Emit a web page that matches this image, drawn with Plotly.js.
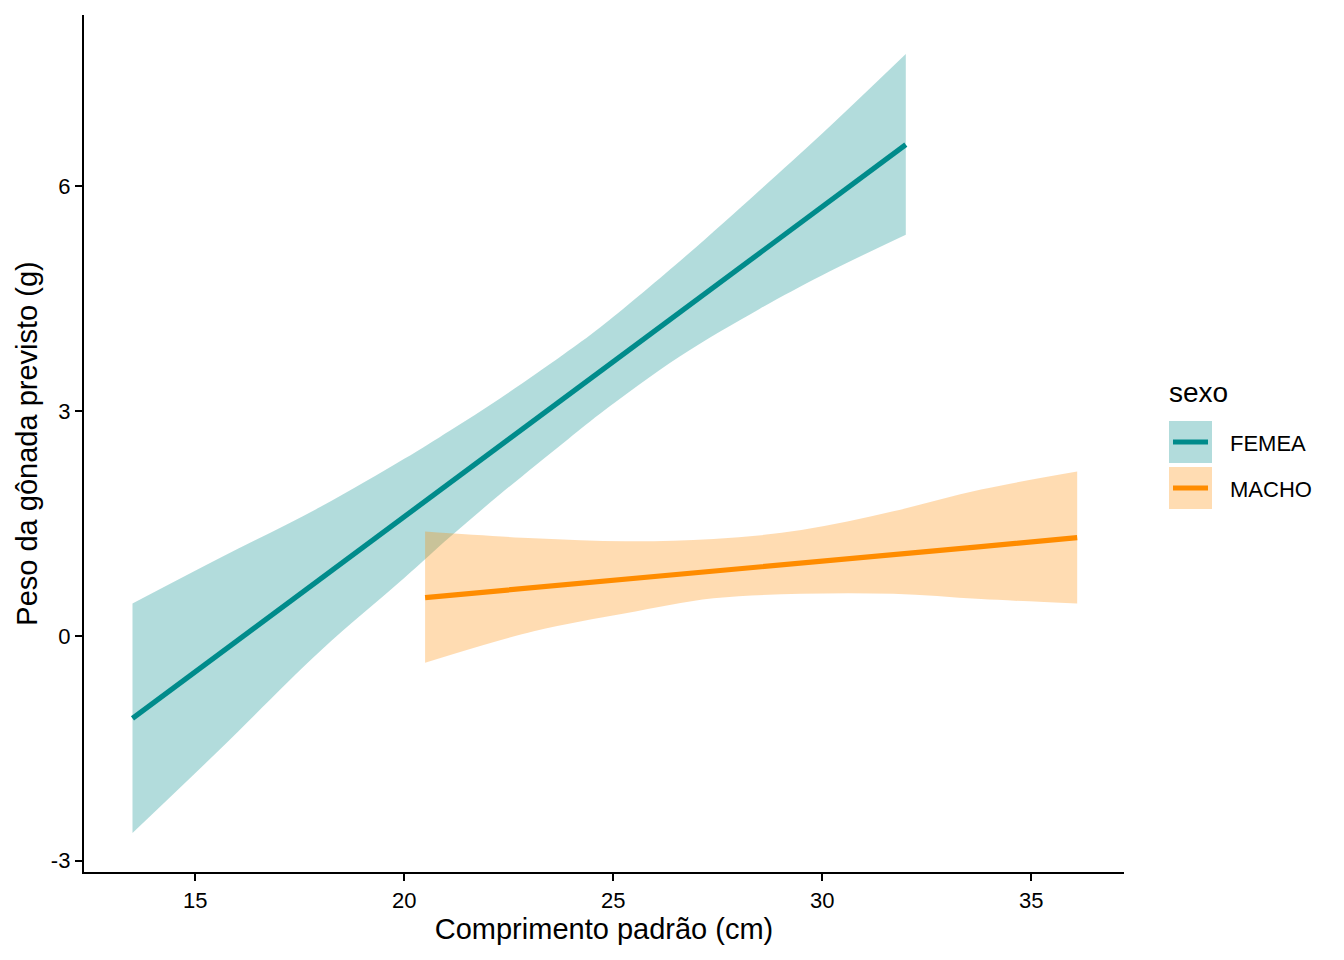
<!DOCTYPE html>
<html>
<head>
<meta charset="utf-8">
<script src="https://cdn.plot.ly/plotly-3.0.1.min.js"></script>
<style>
  body { margin: 0; background: #fff; }
  #chart { width: 1344px; height: 960px; }
</style>
</head>
<body>
<div id="chart"></div>
<script>
// predicted gonad weight by standard length
let femX     = [13.5, 15.6, 18.0, 20.0, 21.1, 22.3, 23.8, 24.7, 26.6, 28.5, 30.0, 32.0];
let femFit   = [-1.10, -0.23, 0.76, 1.59, 2.05, 2.55, 3.17, 3.54, 4.33, 5.11, 5.73, 6.55];
let femLower = [-2.63, -1.51, -0.20, 0.77, 1.32, 1.89, 2.57, 2.97, 3.73, 4.36, 4.81, 5.35];
let femUpper = [0.43, 1.04, 1.72, 2.36, 2.74, 3.17, 3.75, 4.12, 5.00, 5.94, 6.70, 7.76];

let macX     = [20.5, 23.1, 25.3, 27.4, 29.5, 31.7, 33.8, 36.1];
let macFit   = [0.51, 0.64, 0.76, 0.86, 0.97, 1.08, 1.19, 1.31];
let macLower = [-0.36, 0.06, 0.30, 0.50, 0.56, 0.56, 0.49, 0.43];
let macUpper = [1.39, 1.30, 1.26, 1.29, 1.41, 1.66, 1.95, 2.19];

let groups = ["FEMEA", "MACHO"];
let xTicks = [15, 20, 25, 30, 35];
let yTicks = [-3, 0, 3, 6];
let yTickText = ["-3", "0", "3", "6"];  // plain hyphen like the original

const colFem = "#008B8B";
const colMac = "#FF8C00";
const fillFem = "rgba(0,139,139,0.3)";
const fillMac = "rgba(255,140,0,0.3)";
const font = "Liberation Sans, Arial, sans-serif";
const lineW = 5.2;

// ribbon = lower edge (no fill) + upper edge filled down to it
function ribbon(x, lo, hi, fill) {
    return [
        {x: x, y: lo, mode: "lines", line: {width: 0, shape: "spline"}, hoverinfo: "skip", showlegend: false},
        {x: x, y: hi, mode: "lines", fill: "tonexty", fillcolor: fill,
         line: {width: 0, shape: "spline"}, hoverinfo: "skip", showlegend: false}
    ];
}

function fitLine(x, y, col) {
    return {x: x, y: y, mode: "lines", line: {color: col, width: lineW}, hoverinfo: "skip", showlegend: false};
}

let traces = []
    .concat(ribbon(femX, femLower, femUpper, fillFem))
    .concat(ribbon(macX, macLower, macUpper, fillMac));
traces.push(fitLine(femX, femFit, colFem));
traces.push(fitLine(macX, macFit, colMac));

// plot area in pixels, used to place the hand-drawn legend
const L = 84, R = 220, T = 15, B = 88, W = 1344, H = 960;
const px = v => (v - L) / (W - L - R);
const py = v => (H - B - v) / (H - T - B);

let shapes = [];
let annotations = [
    {text: "sexo", x: px(1167), y: py(392), xref: "paper", yref: "paper",
     xanchor: "left", yanchor: "middle", showarrow: false, font: {family: font, size: 28, color: "#000"}}
];
let keyCols = [colFem, colMac];
let keyFills = [fillFem, fillMac];
let keyTop = [421, 467];
for (let i = 0; i < groups.length; i++) {
    let t = keyTop[i];
    shapes.push({type: "rect", xref: "paper", yref: "paper",
                 x0: px(1169), x1: px(1212), y0: py(t), y1: py(t + 42),
                 fillcolor: keyFills[i], line: {width: 0}});
    shapes.push({type: "line", xref: "paper", yref: "paper",
                 x0: px(1173), x1: px(1208), y0: py(t + 21), y1: py(t + 21),
                 line: {color: keyCols[i], width: lineW}});
    annotations.push({text: groups[i], x: px(1228), y: py(t + 22), xref: "paper", yref: "paper",
                      xanchor: "left", yanchor: "middle", showarrow: false,
                      font: {family: font, size: 22, color: "#000"}});
}

let layout = {
    width: W,
    height: H,
    margin: {l: L, r: R, t: T, b: B},
    paper_bgcolor: "#fff",
    plot_bgcolor: "#fff",
    font: {family: font, color: "#000"},
    showlegend: false,
    xaxis: {
        range: [12.34, 37.22],
        tickvals: xTicks,
        ticks: "outside", ticklen: 7, tickwidth: 2.2, tickcolor: "#000",
        showline: true, linecolor: "#000", linewidth: 2.2,
        showgrid: false, zeroline: false,
        tickfont: {size: 22, color: "#000"},
        title: {text: "Comprimento padrão (cm)", font: {size: 29}, standoff: 7}
    },
    yaxis: {
        range: [-3.15, 8.28],
        tickvals: yTicks,
        ticktext: yTickText,
        ticks: "outside", ticklen: 7, tickwidth: 2.2, tickcolor: "#000",
        showline: true, linecolor: "#000", linewidth: 2.2,
        showgrid: false, zeroline: false,
        tickfont: {size: 22, color: "#000"},
        title: {text: "Peso da gônada previsto (g)", font: {size: 29}, standoff: 5}
    },
    shapes: shapes,
    annotations: annotations
};

Plotly.newPlot("chart", traces, layout, {displayModeBar: false, staticPlot: true});
</script>
</body>
</html>
